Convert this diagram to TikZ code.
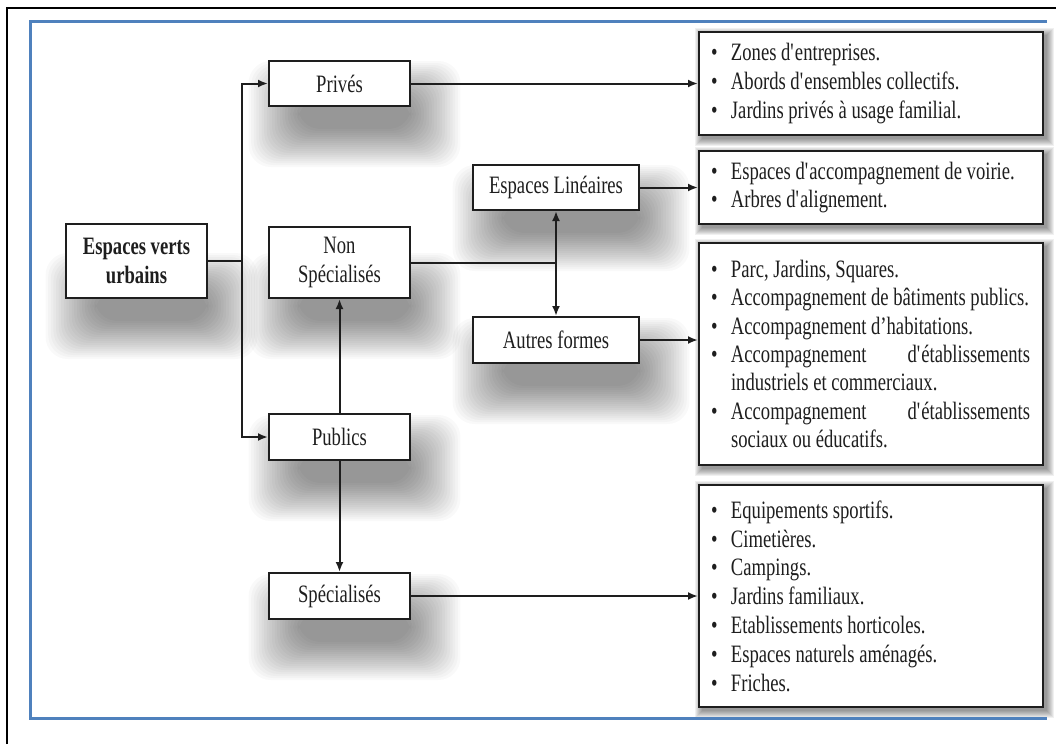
\documentclass[tikz,border=0pt]{standalone}
\usepackage{fontspec}
\setmainfont{Liberation Serif}[FakeStretch=0.745]
\usetikzlibrary{arrows.meta,calc}
\pgfdeclarelayer{background}
\pgfsetlayers{background,main}
\definecolor{frameblue}{RGB}{79,129,189}
\definecolor{ink}{RGB}{30,30,30}
\newcommand{\li}[1]{\makebox[344pt][l]{\hspace*{12pt}\makebox[20pt][l]{\textbullet}#1}}
\newcommand{\lj}[2]{\makebox[344pt][l]{\hspace*{12pt}\makebox[20pt][l]{\textbullet}\makebox[299pt][l]{#1\hfill #2}}}
\newcommand{\lc}[1]{\makebox[344pt][l]{\hspace*{32pt}#1}}
\newcommand{\nshadow}[1]{%
  \foreach \i in {0,...,19}{%
    \fill[black,opacity=0.022,rounded corners=22pt]
      ($(#1.south west)+(30-2.6*\i,-8-2*\i)$) rectangle ($(#1.south east)+(0+2.6*\i,22+2*\i)$);
  }}
\newcommand{\lshadow}[1]{%
  \foreach \i in {0,...,7}{%
    \fill[black,opacity=0.06]
      ($(#1.north west)+(4-\i,4-\i)$) rectangle ($(#1.south east)+(3+\i,3+\i)$);
  }}
\tikzset{
  sbox/.style={draw=ink, line width=2pt, fill=white, inner sep=0pt, text=ink,
    font=\fontsize{25}{28.5}\selectfont, align=center, minimum width=141pt},
  lbox/.style={draw=ink, line width=2pt, fill=white, inner sep=0pt, text=ink,
    align=left, minimum width=344pt},
  conn/.style={draw=ink, line width=2pt},
  arr/.style={conn, -{Latex[length=10pt,width=8pt]}}
}
\begin{document}
\begin{tikzpicture}[x=1pt,y=-1pt]
\useasboundingbox (0,0) rectangle (1056,744);
% small nodes
\node[sbox, minimum height=74pt, font=\fontsize{25}{28.5}\selectfont\bfseries] (evu) at (136.5,261) {Espaces verts\\urbains};
\node[sbox, minimum height=45pt] (prives) at (339.5,83.5) {Privés};
\node[sbox, minimum height=71pt] (nonspec) at (339.5,262.5) {Non\\Spécialisés};
\node[sbox, minimum height=46pt] (publics) at (339.5,437) {Publics};
\node[sbox, minimum height=46pt] (spec) at (339.5,596) {Spécialisés};
\node[sbox, minimum height=45pt, minimum width=166pt] (lin) at (556,187.5) {Espaces Linéaires};
\node[sbox, minimum height=46pt, minimum width=166pt] (autres) at (556,340) {Autres formes};
% list boxes
\node[lbox, minimum height=103pt, font=\fontsize{25}{29}\selectfont] (box1) at (871,83.5)
  {\li{Zones d\textquotesingle entreprises.}\\\li{Abords d\textquotesingle ensembles collectifs.}\\\li{Jardins privés à usage familial.}};
\node[lbox, minimum height=73pt, font=\fontsize{25}{28.5}\selectfont] (box2) at (871,187.5)
  {\li{Espaces d\textquotesingle accompagnement de voirie.}\\\li{Arbres d\textquotesingle alignement.}};
\node[lbox, minimum height=222pt, font=\fontsize{25}{28.3}\selectfont] (box3) at (871,354)
  {\li{Parc, Jardins, Squares.}\\\li{Accompagnement de bâtiments publics.}\\\li{Accompagnement d’habitations.}\\
   \lj{Accompagnement}{d\textquotesingle établissements}\\\lc{industriels et commerciaux.}\\
   \lj{Accompagnement}{d\textquotesingle établissements}\\\lc{sociaux ou éducatifs.}};
\node[lbox, minimum height=222pt, font=\fontsize{25}{28.8}\selectfont] (box4) at (871,596)
  {\li{Equipements sportifs.}\\\li{Cimetières.}\\\li{Campings.}\\\li{Jardins familiaux.}\\
   \li{Etablissements horticoles.}\\\li{Espaces naturels aménagés.}\\\li{Friches.}};
% background, frames and shadows
\begin{pgfonlayer}{background}
  \fill[white] (0,0) rectangle (1056,744);
  \nshadow{evu}\nshadow{prives}\nshadow{nonspec}\nshadow{publics}\nshadow{spec}\nshadow{lin}\nshadow{autres}
  \lshadow{box1}\lshadow{box2}\lshadow{box3}\lshadow{box4}
  \draw[black, line width=2.5pt] (7,744) -- (7,8) -- (1056,8);
  \draw[frameblue, line width=3pt] (1047,21) -- (30,21) -- (30,718) -- (1047,718);
\end{pgfonlayer}
% connectors
\coordinate (trunk) at (242,261);
\coordinate (j) at (556,262.5);
\draw[conn] (evu.east) -- (trunk);
\draw[arr] (trunk) |- (prives.west);
\draw[arr] (trunk) |- (publics.west);
\draw[arr] (publics.north) -- (nonspec.south);
\draw[arr] (publics.south) -- (spec.north);
\draw[conn] (nonspec.east) -- (j);
\draw[arr] (j) -- (lin.south);
\draw[arr] (j) -- (autres.north);
\draw[arr] (prives.east) -- (prives.east -| box1.west);
\draw[arr] (lin.east) -- (lin.east -| box2.west);
\draw[arr] (autres.east) -- (autres.east -| box3.west);
\draw[arr] (spec.east) -- (spec.east -| box4.west);
\end{tikzpicture}
\end{document}
